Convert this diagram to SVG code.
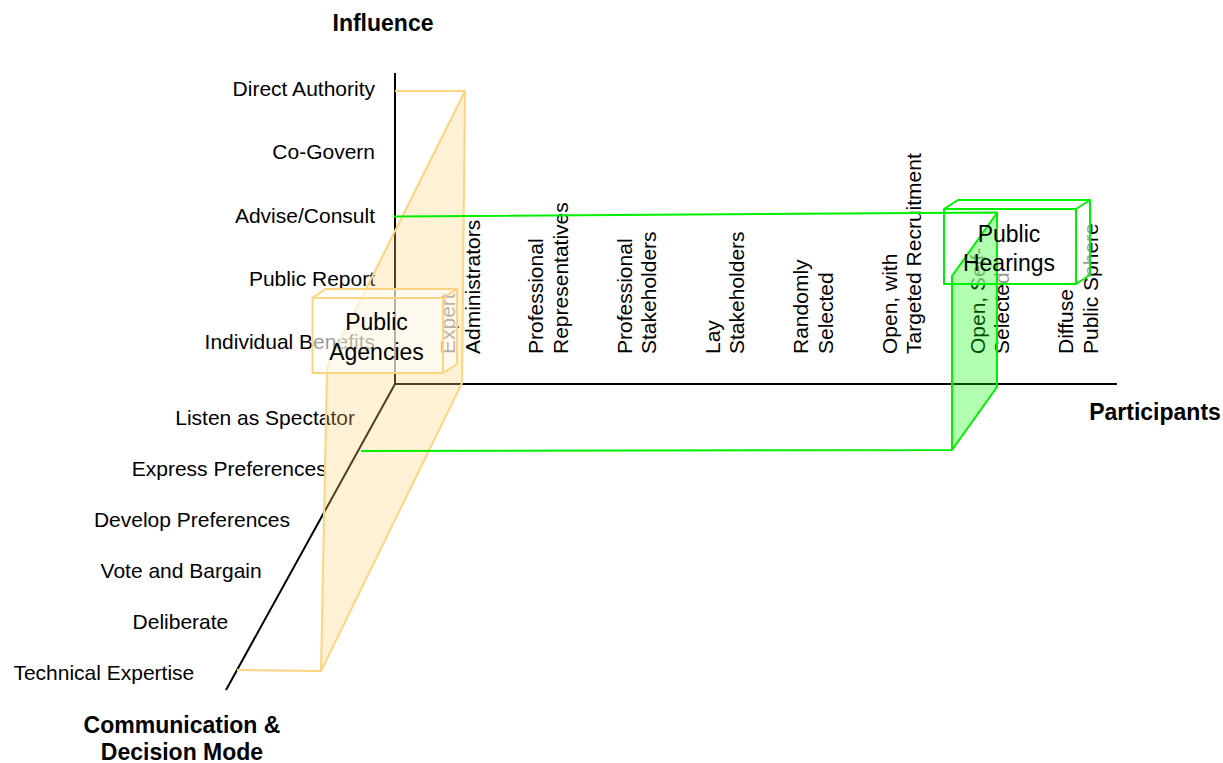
<svg xmlns="http://www.w3.org/2000/svg" width="1223" height="763" viewBox="0 0 1223 763">
<style>
text{font-family:"Liberation Sans",Arial,Helvetica,sans-serif;fill:#000}
.l{font-size:21px}
.le{font-size:21px;text-anchor:end}
.b{font-size:23px;font-weight:bold;text-anchor:middle}
.bx{font-size:23px;text-anchor:middle}
.ax{stroke:#000;stroke-width:2;fill:none}
.os{stroke:#FFD480;stroke-width:2;fill:none;stroke-linejoin:round}
.gs{stroke:#00F000;stroke-width:2;fill:none;stroke-linejoin:round}
.of{fill:#FFCF73;fill-opacity:0.3;stroke:none}
.gf{fill:#00FF00;fill-opacity:0.3;stroke:none}
.wf{fill:#FFFFFF;fill-opacity:0.6;stroke:none}
</style>
<rect width="1223" height="763" fill="#FFFFFF"/>
<g id="connectors">
<line class="ax" x1="395" y1="73" x2="395" y2="384"/>
<line class="ax" x1="394" y1="384" x2="1117" y2="384"/>
<line class="ax" x1="395" y1="384" x2="226" y2="690"/>
</g>
<g id="axis-titles">
<text class="b" x="383" y="30.5">Influence</text>
<text class="b" x="1155" y="420">Participants</text>
<text class="b" x="182" y="733">Communication &amp;</text>
<text class="b" x="182" y="760">Decision Mode</text>
</g>
<g id="influence-labels">
<text class="le" x="375" y="96">Direct Authority</text>
<text class="le" x="375" y="159.3">Co-Govern</text>
<text class="le" x="375" y="222.6">Advise/Consult</text>
<text class="le" x="375" y="285.9">Public Report</text>
<text class="le" x="375" y="349">Individual Benefits</text>
</g>
<g id="mode-labels">
<text class="le" x="355" y="425">Listen as Spectator</text>
<text class="le" x="326.7" y="476">Express Preferences</text>
<text class="le" x="290" y="527">Develop Preferences</text>
<text class="le" x="261.7" y="578">Vote and Bargain</text>
<text class="le" x="228.3" y="629">Deliberate</text>
<text class="le" x="194.3" y="679.5">Technical Expertise</text>
</g>
<g id="participant-labels">
<text class="l" transform="translate(455,354) rotate(-90)"><tspan x="0" y="0">Expert</tspan><tspan x="0" dy="24.5">Administrators</tspan></text>
<text class="l" transform="translate(543.3,354) rotate(-90)"><tspan x="0" y="0">Professional</tspan><tspan x="0" dy="24.5">Representatives</tspan></text>
<text class="l" transform="translate(631.6,354) rotate(-90)"><tspan x="0" y="0">Professional</tspan><tspan x="0" dy="24.5">Stakeholders</tspan></text>
<text class="l" transform="translate(719.9,354) rotate(-90)"><tspan x="0" y="0">Lay</tspan><tspan x="0" dy="24.5">Stakeholders</tspan></text>
<text class="l" transform="translate(808.2,354) rotate(-90)"><tspan x="0" y="0">Randomly</tspan><tspan x="0" dy="24.5">Selected</tspan></text>
<text class="l" transform="translate(896.5,354) rotate(-90)"><tspan x="0" y="0">Open, with</tspan><tspan x="0" dy="24.5">Targeted Recruitment</tspan></text>
<text class="l" transform="translate(984.8,354) rotate(-90)"><tspan x="0" y="0">Open, Self-</tspan><tspan x="0" dy="24.5">Selected</tspan></text>
<text class="l" transform="translate(1073.1,354) rotate(-90)"><tspan x="0" y="0">Diffuse</tspan><tspan x="0" dy="24.5">Public Sphere</tspan></text>
</g>
<g id="public-agencies-range">
<polygon class="of" points="465,91 462,383 321,671 327,367"/>
<polyline class="os" points="395,91 465,91 462,383 321,671 237,670"/>
<polyline class="os" points="465,91 327,367 321,671"/>
</g>
<g id="public-agencies">
<polygon class="wf" points="312.5,298 325.5,289 457,289 457,364 443,373 312.5,373"/>
<polygon class="os" points="312.5,298 325.5,289 457,289 457,364 443,373 312.5,373"/>
<polyline class="os" points="312.5,298 443,298 457,289"/>
<line class="os" x1="443" y1="298" x2="443" y2="373"/>
<text class="bx" x="376.5" y="330">Public</text>
<text class="bx" x="376.5" y="359.5">Agencies</text>
</g>
<g id="public-hearings">
<polygon class="wf" points="944,209 958,200 1090,200 1090,275 1076,284 944,284"/>
<polygon class="gs" points="944,209 958,200 1090,200 1090,275 1076,284 944,284"/>
<polyline class="gs" points="944,209 1076,209 1090,200"/>
<line class="gs" x1="1076" y1="209" x2="1076" y2="284"/>
</g>
<g id="public-hearings-range">
<polygon class="gf" points="997,213 997,387 952,450 952,276"/>
<polyline class="gs" points="394,216.5 997,212.5 997,387 952,450 361,451"/>
<polyline class="gs" points="997,213 952,276 952,450"/>
</g>
<g id="public-hearings-label">
<text class="bx" x="1009" y="241.5">Public</text>
<text class="bx" x="1009" y="271">Hearings</text>
</g>
</svg>
